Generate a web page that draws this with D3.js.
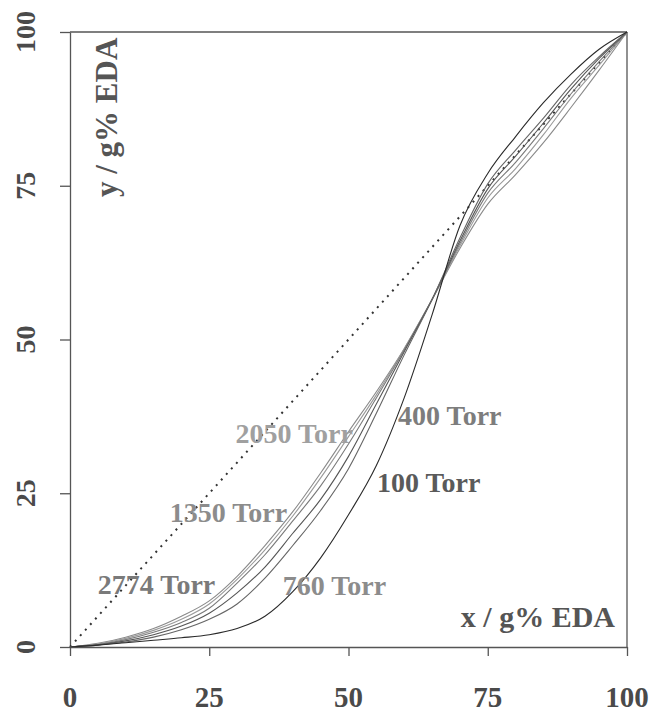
<!DOCTYPE html>
<html><head><meta charset="utf-8">
<script src="https://cdn.jsdelivr.net/npm/d3@7"></script>
<style>
html,body{margin:0;padding:0;background:#fff;}
svg{display:block;}
text{font-family:"Liberation Serif","Times New Roman",serif;font-weight:bold;}
</style></head>
<body>
<svg id="chart" width="653" height="713"></svg>
<script>
// ---- data ----
const xValues = [0,5,10,15,20,25,30,35,40,45,50,55,60,65,70,75,80,85,90,95,100];
const torr2050 = [0,0.6,1.6,3.0,5.0,7.5,11.5,16.5,22.0,28.3,35.0,41.5,48.5,56.5,64.8,72.0,76.8,82.0,87.8,93.8,100];
const torr1350 = [0,0.5,1.4,2.7,4.5,7.0,11.0,15.8,21.3,27.5,34.2,41.0,48.5,56.5,65.2,73.0,77.8,83.3,89.3,94.6,100];
const torr2774 = [0,0.4,1.2,2.4,4.0,6.3,10.4,15.0,20.5,26.2,33.0,40.5,48.3,56.5,65.6,73.8,78.8,84.3,90.0,95.2,100];
const torr400  = [0,0.35,1.0,2.0,3.4,5.5,8.8,13.0,18.5,24.0,31.0,39.5,48.0,56.5,66.0,74.5,79.8,85.2,90.8,95.7,100];
const torr760  = [0,0.3,0.8,1.6,2.8,4.5,7.0,11.2,16.5,22.2,29.0,38.0,47.5,56.5,66.5,75.3,80.8,86.0,91.5,96.0,100];
const torr100  = [0,0.3,0.7,1.1,1.5,2.0,3.0,5.0,9.0,14.5,21.5,29.5,40.5,54.0,68.5,77.0,83.0,88.5,93.2,97.2,100];
const diagonal = [0,100];
const tickValues = [0,25,50,75,100];
const seriesNames = ["2050 Torr","1350 Torr","2774 Torr","400 Torr","760 Torr","100 Torr"];
const seriesValues = [torr2050,torr1350,torr2774,torr400,torr760,torr100];
const seriesColors = ["#8a8a8a","#9a9a9a","#7a7a7a","#555","#666","#2a2a2a"];
// labels: [name, x data, y data]
const labelNames = ["2050 Torr","400 Torr","100 Torr","1350 Torr","2774 Torr","760 Torr"];
const labelX = [29.7,58.9,55.1,17.9,5.0,38.2];
const labelY = [33.2,36.1,25.2,20.3,8.6,8.5];
const labelColors = ["#a0a0a0","#7d7d7d","#5a5a5a","#8c8c8c","#7a7a7a","#8c8c8c"];

// ---- chart ----
const svg = d3.select("#chart");
const x = d3.scaleLinear().domain([0,100]).range([70,627]);
const y = d3.scaleLinear().domain([0,100]).range([647,32]);
const axisColor = "#555";

// frame lines top and right
svg.append("line").attr("x1",x(0)).attr("x2",x(100)).attr("y1",y(100)).attr("y2",y(100))
  .attr("stroke",axisColor).attr("stroke-width",1.3);
svg.append("line").attr("x1",x(100)).attr("x2",x(100)).attr("y1",y(100)).attr("y2",y(0))
  .attr("stroke",axisColor).attr("stroke-width",1.3);

const gx = svg.append("g").attr("transform",`translate(0,${y(0)})`)
  .call(d3.axisBottom(x).tickValues(tickValues).tickSize(9).tickSizeOuter(0).tickFormat(""));
const gy = svg.append("g").attr("transform",`translate(${x(0)},0)`)
  .call(d3.axisLeft(y).tickValues(tickValues).tickSize(10).tickSizeOuter(0).tickFormat(""));
[gx,gy].forEach(g=>{
  g.select(".domain").attr("stroke",axisColor).attr("stroke-width",1.3);
  g.selectAll(".tick line").attr("stroke",axisColor).attr("stroke-width",1.3);
});

// tick labels
svg.append("g").selectAll("text").data(tickValues).join("text")
  .attr("x",d=>x(d)).attr("y",707).attr("text-anchor","middle")
  .attr("font-size",29).attr("fill","#4a4a4a").text(d=>d);
svg.append("g").selectAll("text").data(tickValues).join("text")
  .attr("transform",d=>`translate(35,${y(d)}) rotate(-90)`).attr("text-anchor","middle")
  .attr("font-size",28).attr("fill","#4a4a4a").text(d=>d);

// diagonal dotted line
svg.append("line").attr("x1",x(diagonal[0])).attr("y1",y(diagonal[0]))
  .attr("x2",x(diagonal[1])).attr("y2",y(diagonal[1]))
  .attr("stroke","#333").attr("stroke-width",2).attr("stroke-dasharray","2,5.5");

// curves
const line = d3.line().x((d,i)=>x(xValues[i])).y(d=>y(d)).curve(d3.curveMonotoneX);
svg.append("g").selectAll("path").data(seriesValues).join("path")
  .attr("d",line).attr("fill","none")
  .attr("stroke",(d,i)=>seriesColors[i]).attr("stroke-width",1.1);

// series labels
svg.append("g").selectAll("text").data(labelNames).join("text")
  .attr("x",(d,i)=>x(labelX[i])).attr("y",(d,i)=>y(labelY[i]))
  .attr("font-size",28).attr("fill",(d,i)=>labelColors[i]).text(d=>d);

// axis titles
svg.append("text").attr("x",615).attr("y",627).attr("text-anchor","end")
  .attr("font-size",30).attr("fill","#555").text("x / g% EDA");
svg.append("text").attr("transform","translate(117,197) rotate(-90)")
  .attr("font-size",31).attr("fill","#555").text("y / g% EDA");
</script>
</body></html>
